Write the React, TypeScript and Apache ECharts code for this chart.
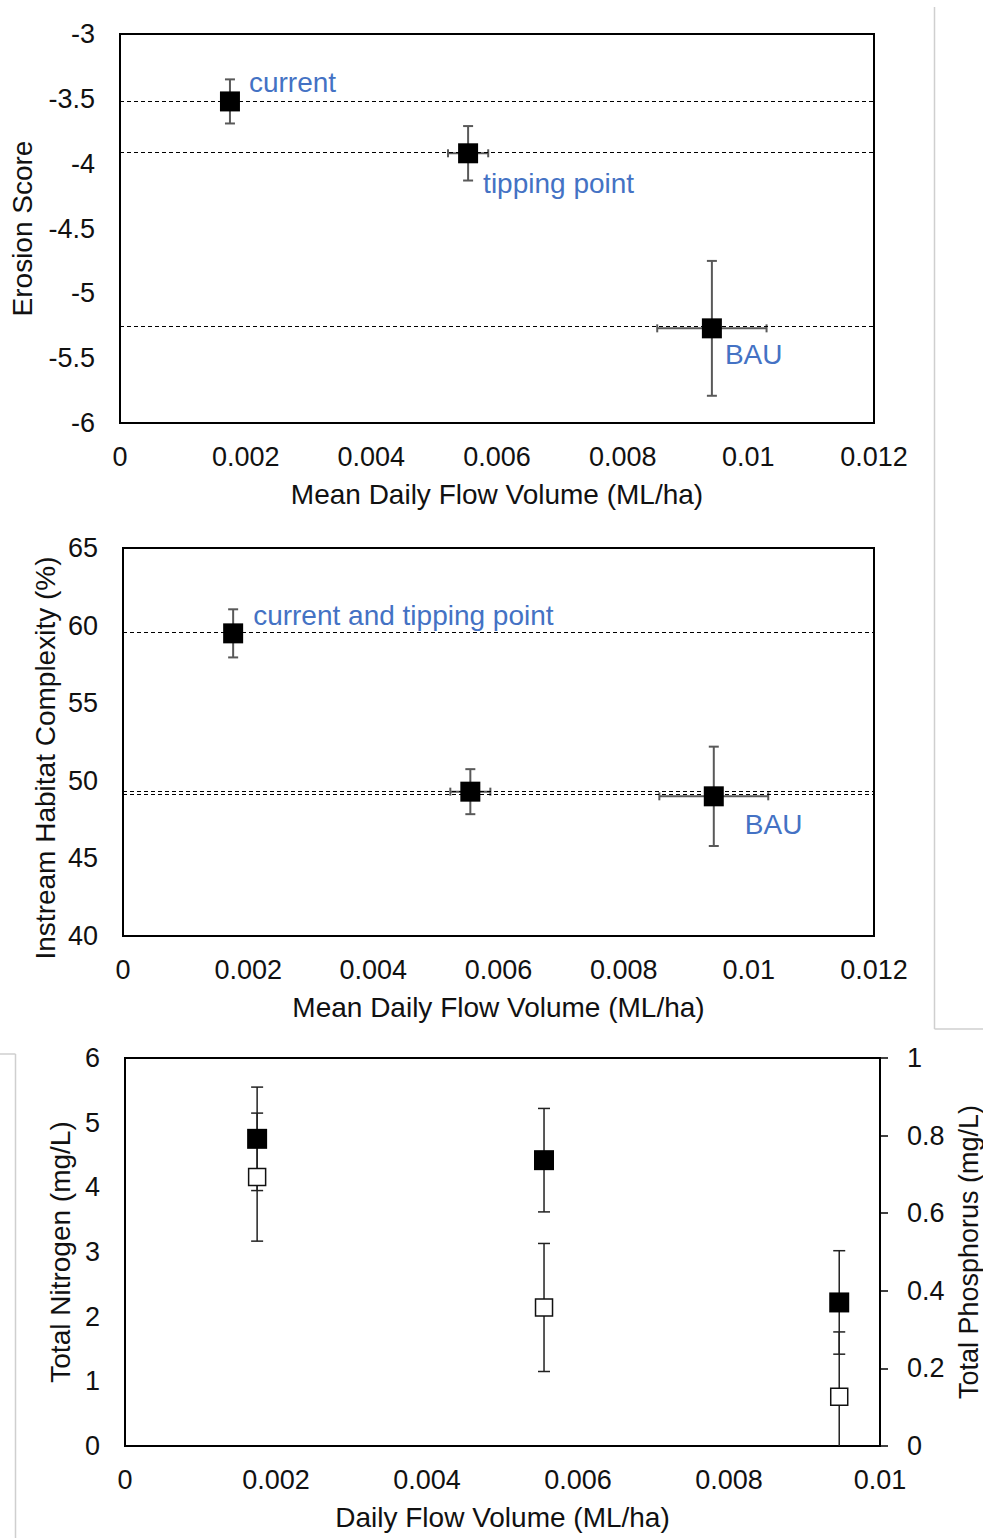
import React, { useEffect, useRef } from "react";
import * as echarts from "echarts";

// ---- Panel 1: Erosion score ----
const erosionNames = ["current", "tipping point", "BAU"];
const erosionFlow = [0.00175, 0.00554, 0.00942];
const erosionFlowErr = [0, 0.00032, 0.00087];
const erosionScore = [-3.52, -3.92, -5.27];
const erosionScoreErr = [0.17, 0.21, 0.52];
const erosionRefLines = [-3.52, -3.91, -5.25];

// ---- Panel 2: Instream habitat complexity ----
const habitatNames = ["current and tipping point", "", "BAU"];
const habitatFlow = [0.00176, 0.00555, 0.00944];
const habitatFlowErr = [0, 0.00032, 0.00087];
const habitatScore = [59.5, 49.3, 49.0];
const habitatScoreErr = [1.55, 1.45, 3.2];
const habitatRefLines = [59.54, 49.3, 49.13];

// ---- Panel 3: Nutrients ----
const nutrientFlow = [0.00175, 0.00555, 0.00946];
const nitrogen = [4.75, 4.42, 2.22];
const nitrogenErr = [0.8, 0.8, 0.8];
const phosphorus = [0.693, 0.357, 0.127];
const phosphorusErr = [0.165, 0.165, 0.167];

// tick settings
const flowTicks12 = { min: 0, max: 0.012, interval: 0.002 };
const flowTicks10 = { min: 0, max: 0.01, interval: 0.002 };
const erosionTicks = { min: -6, max: -3, interval: 0.5 };
const habitatTicks = { min: 40, max: 65, interval: 5 };
const nitrogenTicks = { min: 0, max: 6, interval: 1 };
const phosphorusTicks = { min: 0, max: 1, interval: 0.2 };

const FONT = "'Liberation Sans', Arial, sans-serif";
const TXT = "#111";
const BLUE = "#4472C4";
const TICK_FS = 27;

// label offsets (relative to symbol bounding box top-left; symbol size 20)
const erosionLabelPos = [[29, -9], [25, 40], [23, 36]];
const habitatLabelPos = [[30, -8], [0, 0], [41, 38]];

function errorBarRender(color: string, width: number, cap: number) {
  return (params: any, api: any) => {
    const x = api.value(0);
    const y = api.value(1);
    const xe = api.value(2);
    const ye = api.value(3);
    const cs = params.coordSys;
    const yMin = cs.y;
    const yMax = cs.y + cs.height;
    const c = api.coord([x, y]);
    const t = api.coord([x, y + ye]);
    const b = api.coord([x, y - ye]);
    const style = { stroke: color, lineWidth: width, fill: "none" };
    const children: any[] = [];
    const ty = Math.max(t[1], yMin);
    const by = Math.min(b[1], yMax);
    children.push({ type: "line", shape: { x1: c[0], y1: ty, x2: c[0], y2: by }, style });
    if (t[1] >= yMin)
      children.push({ type: "line", shape: { x1: c[0] - cap, y1: t[1], x2: c[0] + cap, y2: t[1] }, style });
    if (b[1] <= yMax)
      children.push({ type: "line", shape: { x1: c[0] - cap, y1: b[1], x2: c[0] + cap, y2: b[1] }, style });
    if (xe > 0) {
      const l = api.coord([x - xe, y]);
      const r = api.coord([x + xe, y]);
      children.push({ type: "line", shape: { x1: l[0], y1: c[1], x2: r[0], y2: c[1] }, style });
      children.push({ type: "line", shape: { x1: l[0], y1: c[1] - 4, x2: l[0], y2: c[1] + 4 }, style });
      children.push({ type: "line", shape: { x1: r[0], y1: c[1] - 4, x2: r[0], y2: c[1] + 4 }, style });
    }
    return { type: "group", children };
  };
}

function baseX(gridIndex: number, ticks: any, name: string) {
  return {
    type: "value",
    gridIndex,
    ...ticks,
    name,
    nameLocation: "middle",
    nameGap: 57,
    nameTextStyle: { fontSize: 28, color: TXT, fontFamily: FONT },
    axisLine: { show: false },
    axisTick: { show: false },
    splitLine: { show: false },
    axisLabel: { fontSize: TICK_FS, color: TXT, margin: 20, fontFamily: FONT },
  };
}

function baseY(gridIndex: number, ticks: any, name: string, nameGap: number) {
  return {
    type: "value",
    gridIndex,
    ...ticks,
    name,
    nameLocation: "middle",
    nameRotate: 90,
    nameGap,
    nameTextStyle: { fontSize: 28, color: TXT, fontFamily: FONT },
    axisLine: { show: false },
    axisTick: { show: false },
    splitLine: { show: false },
    axisLabel: { fontSize: TICK_FS, color: TXT, margin: 25, fontFamily: FONT },
  };
}

const dashed = { color: "#000", width: 1, type: [4, 3] };

export default function App() {
  const ref = useRef<HTMLDivElement>(null);
  useEffect(() => {
    if (!ref.current) return;
    const chart = echarts.init(ref.current, null, { renderer: "svg" });
    const gridStyle = {
      show: true,
      borderColor: "#000",
      borderWidth: 2,
      backgroundColor: "transparent",
      containLabel: false,
      outerBoundsMode: "none",
    };
    const option: any = {
      animation: false,
      backgroundColor: "#fff",
      textStyle: { fontFamily: FONT },
      grid: [
        { ...gridStyle, left: 120, top: 34, width: 754, height: 389 },
        { ...gridStyle, left: 123, top: 548, width: 751, height: 388 },
        { ...gridStyle, left: 125, top: 1058, width: 755, height: 388 },
      ],
      xAxis: [
        baseX(0, flowTicks12, "Mean Daily Flow Volume (ML/ha)"),
        baseX(1, flowTicks12, "Mean Daily Flow Volume (ML/ha)"),
        baseX(2, flowTicks10, "Daily Flow Volume (ML/ha)"),
      ],
      yAxis: [
        baseY(0, erosionTicks, "Erosion Score", 84),
        baseY(1, habitatTicks, "", 60),
        baseY(2, nitrogenTicks, "Total Nitrogen (mg/L)", 49),
        {
          ...baseY(2, phosphorusTicks, "Total Phosphorus (mg/L)", 72),
          position: "right",
          nameTextStyle: { fontSize: 27, lineHeight: 27, color: TXT, fontFamily: FONT },
          axisTick: { show: true, inside: false, length: 8, lineStyle: { color: "#000", width: 1.5 } },
          axisLabel: { fontSize: TICK_FS, color: TXT, margin: 27, fontFamily: FONT },
        },
      ],
      graphic: [
        {
          type: "text",
          x: 45,
          y: 758,
          rotation: Math.PI / 2,
          style: {
            text: "Instream Habitat Complexity (%)",
            fontSize: 28,
            fontFamily: FONT,
            fill: TXT,
            textAlign: "center",
            textVerticalAlign: "middle",
          },
        },
        { type: "line", shape: { x1: 934.5, y1: 7, x2: 934.5, y2: 1029 }, style: { stroke: "#cfcfcf", lineWidth: 1.5 } },
        { type: "line", shape: { x1: 934.5, y1: 1029, x2: 983, y2: 1029 }, style: { stroke: "#cfcfcf", lineWidth: 1.5 } },
        { type: "line", shape: { x1: 15.5, y1: 1054, x2: 15.5, y2: 1538 }, style: { stroke: "#cfcfcf", lineWidth: 1.5 } },
        { type: "line", shape: { x1: 0, y1: 1054, x2: 15.5, y2: 1054 }, style: { stroke: "#cfcfcf", lineWidth: 1.5 } },
      ],
      series: [
        // Panel 1
        {
          type: "custom",
          xAxisIndex: 0,
          yAxisIndex: 0,
          z: 2,
          renderItem: errorBarRender("#595959", 2, 5),
          data: erosionFlow.map((x, i) => [x, erosionScore[i], erosionFlowErr[i], erosionScoreErr[i]]),
        },
        {
          type: "scatter",
          xAxisIndex: 0,
          yAxisIndex: 0,
          z: 3,
          symbol: "rect",
          symbolSize: 20,
          itemStyle: { color: "#000", opacity: 1 },
          data: erosionFlow.map((x, i) => ({
            value: [x, erosionScore[i]],
            name: erosionNames[i],
            label: {
              show: true,
              formatter: erosionNames[i],
              position: erosionLabelPos[i],
              align: "left",
              verticalAlign: "middle",
              color: BLUE,
              fontSize: 28,
              fontFamily: FONT,
            },
          })),
          markLine: {
            silent: true,
            symbol: "none",
            label: { show: false },
            lineStyle: dashed,
            data: erosionRefLines.map((v) => ({ yAxis: v })),
          },
        },
        // Panel 2
        {
          type: "custom",
          xAxisIndex: 1,
          yAxisIndex: 1,
          z: 2,
          renderItem: errorBarRender("#595959", 2, 5),
          data: habitatFlow.map((x, i) => [x, habitatScore[i], habitatFlowErr[i], habitatScoreErr[i]]),
        },
        {
          type: "scatter",
          xAxisIndex: 1,
          yAxisIndex: 1,
          z: 3,
          symbol: "rect",
          symbolSize: 20,
          itemStyle: { color: "#000", opacity: 1 },
          data: habitatFlow.map((x, i) => ({
            value: [x, habitatScore[i]],
            name: habitatNames[i],
            label: {
              show: habitatNames[i] !== "",
              formatter: habitatNames[i],
              position: habitatLabelPos[i],
              align: "left",
              verticalAlign: "middle",
              color: BLUE,
              fontSize: 28,
              fontFamily: FONT,
            },
          })),
          markLine: {
            silent: true,
            symbol: "none",
            label: { show: false },
            lineStyle: dashed,
            data: habitatRefLines.map((v) => ({ yAxis: v })),
          },
        },
        // Panel 3
        {
          type: "custom",
          xAxisIndex: 2,
          yAxisIndex: 2,
          z: 2,
          renderItem: errorBarRender("#222", 1.5, 6),
          data: nutrientFlow.map((x, i) => [x, nitrogen[i], 0, nitrogenErr[i]]),
        },
        {
          type: "custom",
          xAxisIndex: 2,
          yAxisIndex: 3,
          z: 2,
          renderItem: errorBarRender("#222", 1.5, 6),
          data: nutrientFlow.map((x, i) => [x, phosphorus[i], 0, phosphorusErr[i]]),
        },
        {
          type: "scatter",
          name: "Total Nitrogen",
          xAxisIndex: 2,
          yAxisIndex: 2,
          z: 3,
          symbol: "rect",
          symbolSize: 20,
          itemStyle: { color: "#000", opacity: 1 },
          data: nutrientFlow.map((x, i) => [x, nitrogen[i]]),
        },
        {
          type: "scatter",
          name: "Total Phosphorus",
          xAxisIndex: 2,
          yAxisIndex: 3,
          z: 4,
          symbol: "rect",
          symbolSize: 17,
          itemStyle: { color: "#fff", borderColor: "#111", borderWidth: 1.5, opacity: 1 },
          data: nutrientFlow.map((x, i) => [x, phosphorus[i]]),
        },
      ],
    };
    chart.setOption(option);
    return () => chart.dispose();
  }, []);
  return (
    <div
      ref={ref}
      style={{ position: "absolute", left: 0, top: 0, width: 983, height: 1538, background: "#fff" }}
    />
  );
}
